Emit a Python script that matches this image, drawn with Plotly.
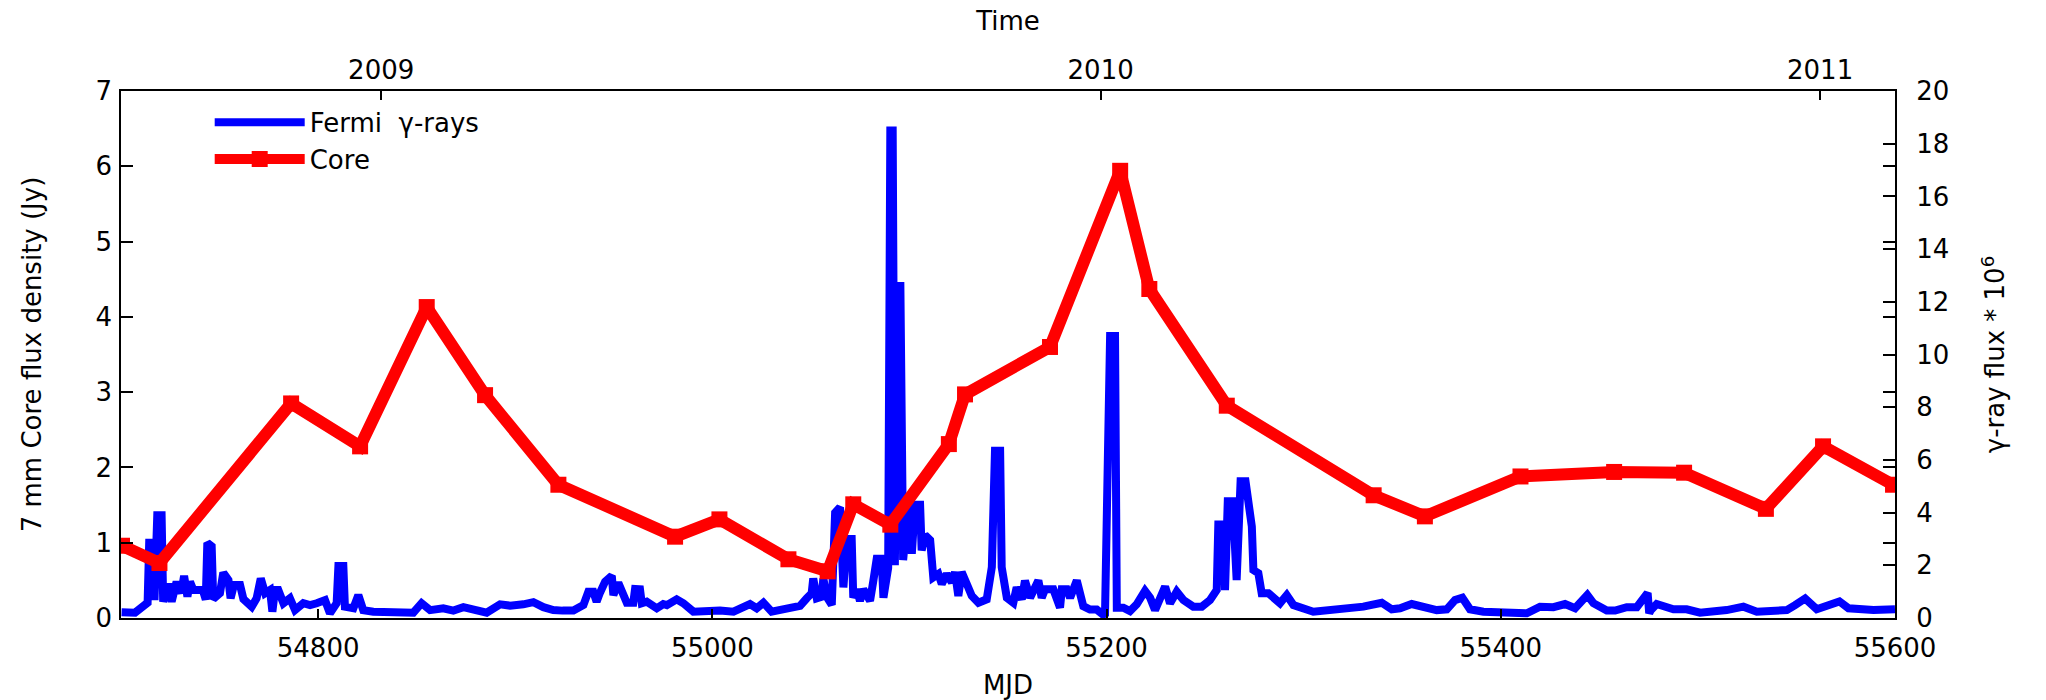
import plotly.graph_objects as go

# ---------------- data ----------------
core_mjd = [54700.5, 54719.5, 54786.3, 54821.3, 54855.1, 54884.7, 54921.9, 54981.1,
            55003.6, 55038.6, 55058.5, 55071.5, 55090.3, 55120.0, 55128.2, 55171.3,
            55206.9, 55221.7, 55261.0, 55335.5, 55361.5, 55410.0, 55457.5, 55493.0,
            55534.5, 55563.5, 55599.0]
core_flux = [0.96, 0.73, 2.85, 2.28, 4.13, 2.96, 1.77, 1.08,
             1.31, 0.78, 0.62, 1.51, 1.24, 2.31, 2.97, 3.60,
             5.94, 4.37, 2.82, 1.63, 1.35, 1.88, 1.94, 1.93,
             1.45, 2.28, 1.77]

fermi_mjd = [
    54700.3, 54707.1, 54713.5, 54714.3, 54716.3, 54717.0, 54718.4, 54720.6, 54721.4, 54723.0,
    54724.0, 54725.7, 54728.2, 54729.5, 54730.8, 54732.0, 54733.7, 54735.0, 54736.7, 54738.7,
    54741.5, 54743.0, 54743.8, 54746.0, 54746.8, 54750.2, 54751.9, 54754.5, 54755.6, 54757.3,
    54760.4, 54762.1, 54766.3, 54768.8, 54770.9, 54773.1, 54775.6, 54776.8, 54778.1, 54779.8,
    54782.4, 54785.7, 54788.3, 54792.5, 54795.9, 54799.3, 54803.5, 54806.0, 54809.4, 54810.3,
    54812.8, 54813.6, 54816.2, 54817.9, 54820.4, 54822.9, 54828.0, 54848.3, 54852.5, 54856.8,
    54863.5, 54868.6, 54873.7, 54878.7, 54885.5, 54892.3, 54897.4, 54904.1, 54909.2, 54914.3,
    54919.3, 54924.0,
    54929.5, 54934.6, 54937.1, 54939.6, 54941.3, 54943.0, 54945.6, 54949.0, 54949.8, 54952.3,
    54956.6, 54959.9, 54960.8, 54963.3, 54964.2, 54966.7, 54971.8, 54975.1, 54976.9, 54981.9,
    54985.3, 54990.4, 54997.2, 55003.9, 55010.7, 55015.7, 55019.1, 55022.5, 55025.9, 55030.1,
    55037.7, 55044.5, 55047.9, 55050.4, 55051.2, 55053.0, 55055.5, 55056.3, 55058.0, 55060.6,
    55062.3, 55064.8, 55066.5, 55068.2, 55070.7, 55071.5, 55073.3, 55074.9, 55076.6, 55080.0,
    55081.7, 55083.4, 55085.9, 55086.8, 55089.2, 55090.3, 55091.5, 55092.6, 55094.2, 55095.4,
    55096.8, 55099.4, 55101.2, 55102.8, 55105.4, 55106.2, 55107.9, 55110.5, 55112.1, 55114.7,
    55116.4, 55118.9, 55121.5, 55123.1, 55124.8, 55126.5, 55129.1, 55131.6, 55135.0, 55139.2,
    55141.8, 55143.4, 55146.0, 55146.8, 55149.4, 55152.7, 55154.4, 55157.0, 55158.6, 55161.2,
    55165.4, 55167.1, 55168.8, 55173.0, 55176.4, 55177.3, 55179.8, 55181.5, 55184.9, 55188.2,
    55191.6, 55195.0, 55199.2, 55201.8, 55204.3, 55205.2, 55208.5, 55211.9, 55215.3, 55219.5,
    55222.1, 55224.6, 55229.7, 55232.2, 55235.6, 55239.0, 55244.0, 55248.3, 55252.5, 55255.9,
    55256.7, 55259.3, 55260.1, 55261.5, 55264.0, 55266.0, 55268.0, 55270.5, 55273.7, 55274.5,
    55277.0, 55278.7, 55282.1, 55284.6, 55288.0, 55291.4, 55294.8, 55304.9, 55316.8, 55330.3,
    55332.0, 55339.6, 55344.7, 55348.9, 55354.8, 55361.6, 55367.5, 55372.6, 55376.8, 55380.5,
    55384.4, 55391.2, 55399.6, 55413.2, 55419.9, 55426.7, 55432.6, 55437.7, 55443.9, 55447.0,
    55453.8, 55458.0, 55463.9, 55469.0, 55474.5, 55475.3, 55476.1, 55479.1, 55487.6, 55494.3,
    55501.1, 55514.6, 55523.1, 55529.9, 55538.3, 55545.1, 55549.3, 55554.4, 55560.3, 55566.2,
    55571.8, 55576.4, 55589.1, 55600.0]
fermi_flux = [
    0.22, 0.20, 0.58, 2.86, 2.86, 0.68, 3.90, 3.90, 0.62, 1.00,
    1.30, 0.62, 1.38, 1.05, 1.06, 1.60, 0.81, 1.38, 1.06, 1.06,
    1.06, 0.70, 2.85, 2.72, 0.72, 0.94, 1.72, 1.44, 0.75, 1.25,
    1.25, 0.72, 0.43, 0.75, 1.50, 0.94, 1.06, 0.24, 1.06, 1.06,
    0.56, 0.75, 0.30, 0.56, 0.49, 0.56, 0.68, 0.18, 0.56, 1.97,
    1.97, 0.43, 0.37, 0.37, 0.87, 0.30, 0.24, 0.20, 0.56, 0.30,
    0.37, 0.28, 0.41, 0.30, 0.20, 0.52, 0.47, 0.52, 0.60, 0.41,
    0.30, 0.28,
    0.28, 0.49, 1.00, 1.00, 0.62, 0.96, 1.38, 1.60, 0.87, 1.34,
    0.58, 0.58, 1.10, 1.09, 0.56, 0.62, 0.37, 0.53, 0.49, 0.71,
    0.56, 0.24, 0.28, 0.28, 0.24, 0.37, 0.53, 0.37, 0.58, 0.24,
    0.32, 0.46, 0.75, 0.94, 1.50, 0.75, 0.81, 1.50, 0.81, 0.50,
    4.00, 4.20, 1.16, 3.00, 3.00, 0.77, 1.09, 0.65, 1.09, 0.65,
    1.42, 2.25, 2.25, 0.77, 1.90, 18.5, 18.5, 2.00, 12.6, 12.6,
    2.20, 4.35, 2.44, 4.30, 4.30, 2.57, 3.15, 2.96, 1.54, 1.67,
    1.29, 1.67, 1.35, 1.74, 0.84, 1.74, 1.29, 0.84, 0.58, 0.71,
    1.93, 6.35, 6.35, 1.93, 0.77, 0.58, 1.16, 0.71, 1.42, 0.77,
    1.42, 0.77, 1.09, 1.09, 0.39, 1.09, 1.09, 0.77, 1.42, 0.45,
    0.32, 0.32, 0.07, 10.7, 10.7, 0.39, 0.39, 0.26, 0.52, 1.03,
    0.77, 0.30, 1.19, 0.56, 1.00, 0.68, 0.43, 0.43, 0.68, 1.06,
    3.55, 3.55, 1.06, 4.43, 4.43, 1.44, 5.19, 5.19, 3.47, 1.82,
    1.70, 0.94, 0.94, 0.75, 0.56, 0.87, 0.49, 0.24, 0.30, 0.43,
    0.46, 0.58, 0.33, 0.37, 0.53, 0.41, 0.30, 0.33, 0.68, 0.77,
    0.33, 0.24, 0.20, 0.18, 0.43, 0.41, 0.53, 0.37, 0.87, 0.56,
    0.28, 0.28, 0.41, 0.41, 0.95, 0.18, 0.30, 0.53, 0.33, 0.33,
    0.20, 0.30, 0.43, 0.24, 0.30, 0.30, 0.49, 0.74, 0.33, 0.46,
    0.63, 0.37, 0.30, 0.33]

mjd_ticks = [54800, 55000, 55200, 55400, 55600]
year_mjd = [54832, 55197, 55562]
year_labels = ["2009", "2010", "2011"]
core_ticks = [0, 1, 2, 3, 4, 5, 6, 7]
gamma_ticks = [0, 2, 4, 6, 8, 10, 12, 14, 16, 18, 20]

# ---------------- figure ----------------
FONT = "DejaVu Sans"
FS = 26
fig = go.Figure()

fig.add_trace(go.Scatter(
    x=fermi_mjd, y=fermi_flux, name="Fermi  \u03b3-rays", mode="lines",
    line=dict(color="#0000ff", width=8), xaxis="x", yaxis="y"))
fig.add_trace(go.Scatter(
    x=core_mjd, y=core_flux, name="Core", mode="lines+markers",
    line=dict(color="#ff0000", width=12),
    marker=dict(symbol="square", size=16, color="#ff0000"),
    xaxis="x", yaxis="y2"))
# helpers so the top (year) axis and the mirrored right ticks are drawn
fig.add_trace(go.Scatter(x=year_mjd, y=[None] * len(year_mjd), xaxis="x2", yaxis="y",
                         showlegend=False, hoverinfo="skip", mode="lines"))
fig.add_trace(go.Scatter(x=[None], y=[None], xaxis="x", yaxis="y3",
                         showlegend=False, hoverinfo="skip", mode="lines"))

axis_common = dict(showgrid=False, zeroline=False, ticks="inside", tickcolor="black",
                   tickwidth=2, automargin=False,
                   tickfont=dict(family=FONT, size=FS, color="black"))

fig.update_layout(
    width=2046, height=700,
    margin=dict(l=121, r=151, t=91, b=82, pad=0),
    paper_bgcolor="white", plot_bgcolor="white",
    font=dict(family=FONT, size=FS, color="black"),
    xaxis=dict(range=[54700, 55600], tickvals=mjd_ticks, tickformat="d", ticklen=9,
               showline=True, linecolor="black", linewidth=2, mirror=True,
               title=dict(text="MJD", standoff=14, font=dict(family=FONT, size=FS)),
               ticklabelstandoff=6, **axis_common),
    xaxis2=dict(range=[54700, 55600], overlaying="x", side="top", anchor="y",
                tickvals=year_mjd, ticktext=year_labels, ticklen=9, showline=False,
                title=dict(text="Time", standoff=16, font=dict(family=FONT, size=FS)),
                ticklabelstandoff=6, **axis_common),
    yaxis=dict(range=[0, 20], tickvals=gamma_ticks, side="right", ticklen=12,
               showline=True, linecolor="black", linewidth=2, mirror=True,
               title=dict(text="\u03b3-ray flux * 10<sup>6</sup>", standoff=38,
                          font=dict(family=FONT, size=FS)),
               ticklabelstandoff=14, **axis_common),
    yaxis2=dict(range=[0, 7], tickvals=core_ticks, side="left", overlaying="y",
                anchor="x", ticklen=12, showline=False,
                title=dict(text="7 mm Core flux density (Jy)", standoff=46,
                           font=dict(family=FONT, size=FS)),
                ticklabelstandoff=8, **axis_common),
    yaxis3=dict(range=[0, 7], tickvals=core_ticks, side="right", overlaying="y",
                anchor="x", ticklen=12, showline=False, showticklabels=False,
                **axis_common),
    legend=dict(x=0.05, y=0.985, xanchor="left", yanchor="top",
                bgcolor="rgba(0,0,0,0)", borderwidth=0, itemwidth=90,
                tracegroupgap=0, font=dict(family=FONT, size=FS, color="black")),
    showlegend=True,
)

fig.write_html("out.html", include_plotlyjs=True, config={"displayModeBar": False},
               post_script="document.body.style.margin='0';document.body.style.overflow='hidden';")
